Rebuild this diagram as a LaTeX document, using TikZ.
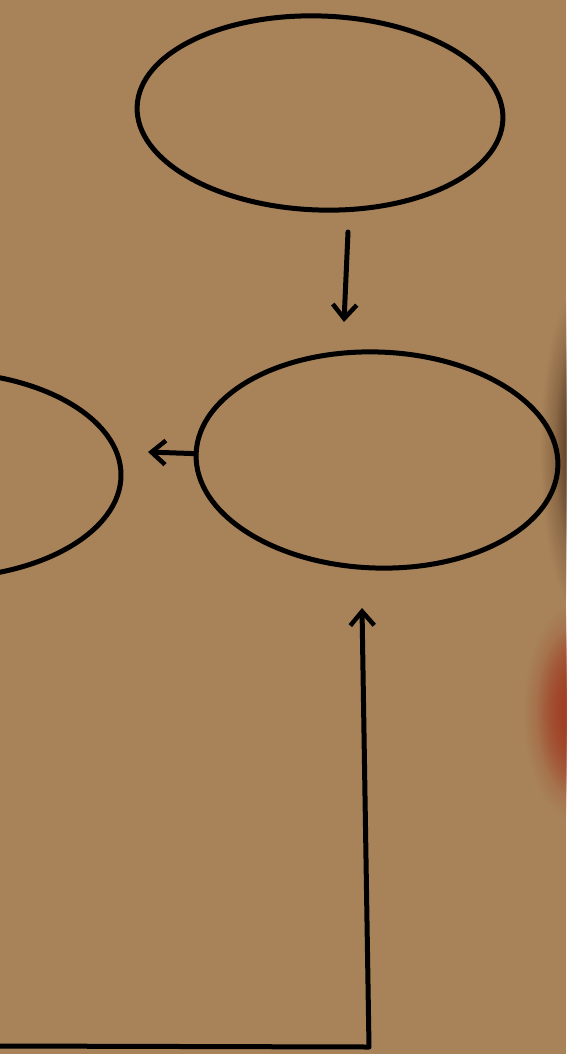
\documentclass[tikz,border=0pt]{standalone}
\usetikzlibrary{shapes.geometric,arrows.meta,fadings}
\definecolor{paper}{RGB}{168,131,90}
\definecolor{shadowc}{RGB}{80,50,30}
\definecolor{blobc}{RGB}{160,58,32}
\tikzfading[name=softfade, inner color=transparent!0, outer color=transparent!100]
\tikzset{
  ink/.style={line width=5pt, line cap=round, line join=round, black},
  arr/.style={ink, -{Straight Barb[length=14pt,width=24pt,line width=4.5pt]}},
  glow/.style={path fading=softfade}
}
\begin{document}
\begin{tikzpicture}[x=1pt,y=-1pt]
\fill[paper] (0,0) rectangle (566,1054);
\useasboundingbox (0,0) rectangle (566,1054);
% right-edge shading
\fill[shadowc, glow] (585,450) ellipse (45 and 170);
\fill[shadowc, glow] (585,445) ellipse (30 and 130);
\fill[blobc, glow] (578,712) ellipse (55 and 110);
\fill[blobc, glow] (575,712) ellipse (38 and 85);
% ellipses
\node[ink, draw, ellipse, minimum width=366pt, minimum height=194pt, rotate=-2] (top) at (320,113) {};
\node[ink, draw, ellipse, minimum width=362pt, minimum height=216pt, rotate=-2] (mid) at (377,460) {};
\node[ink, draw, ellipse, minimum width=362pt, minimum height=206pt] (left) at (-60,475) {};
% connectors
\coordinate (a1s) at (348,232);
\coordinate (a1e) at (344,322);
\draw[arr] (a1s) -- (a1e);
\coordinate (a2e) at (148,452);
\draw[arr] (mid.west) -- (a2e);
\coordinate (p0) at (0,1046);
\coordinate (p1) at (369,1047);
\coordinate (a3e) at (362,608);
\draw[arr] (p0) -- (p1) -- (a3e);
\end{tikzpicture}
\end{document}
